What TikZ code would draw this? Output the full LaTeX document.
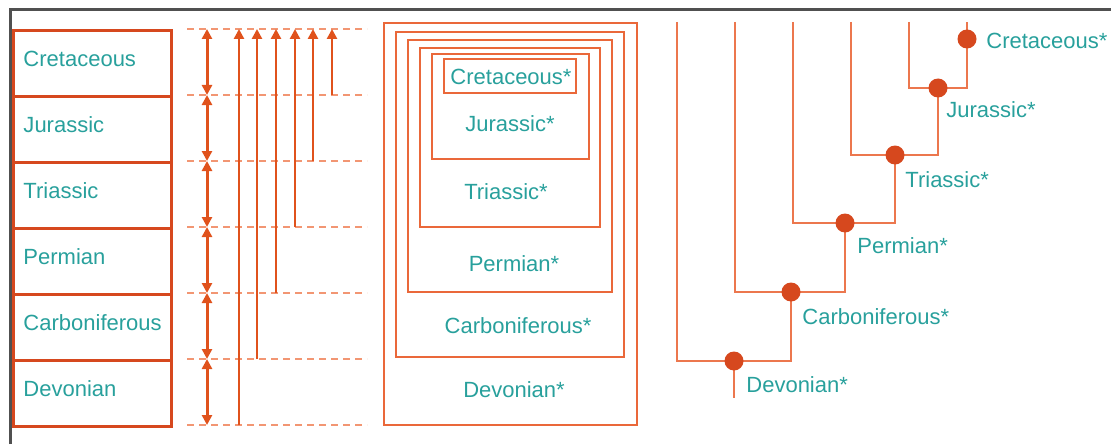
\documentclass[tikz,border=0pt]{standalone}
\usepackage{fontspec}
\setmainfont{Liberation Sans}
\usepackage{xcolor}
\definecolor{epochred}{RGB}{214, 72, 30}
\definecolor{epocharrow}{RGB}{224, 82, 28}
\definecolor{epochorange}{RGB}{234, 104, 58}
\definecolor{epochdash}{RGB}{242, 150, 115}
\definecolor{epochteal}{RGB}{40, 160, 156}
\definecolor{framegray}{RGB}{80, 80, 80}
\usetikzlibrary{arrows.meta}

\begin{document}
\begin{tikzpicture}[
  x=0.5pt, y=-0.5pt,
  period/.style={draw=epochred, line width=1.5pt, minimum height=33pt, text width=69pt, text depth=4.7pt, inner xsep=5pt, inner ysep=0pt, align=left, font=\fontsize{11}{13}\selectfont, text=epochteal, anchor=north west},
  guide/.style={draw=epochdash, line width=0.8pt, dash pattern=on 3.5pt off 2.5pt},
  span/.style={draw=epocharrow, line width=1.5pt, {Triangle[length=5pt, width=5pt]}-{Triangle[length=5pt, width=5pt]}},
  reach/.style={draw=epocharrow, line width=1.4pt, -{Triangle[length=5pt, width=5pt]}},
  nest/.style={draw=epochorange, line width=1.1pt},
  tag/.style={font=\fontsize{11}{13}\selectfont, text=epochteal, inner sep=0pt},
  branch/.style={draw=epochorange!90!white, line width=1.2pt},
  fossil/.style={circle, fill=epochred, inner sep=0pt, minimum size=9.5pt}
]
  \useasboundingbox (0,0) rectangle (1111,444);

  % Frame
  \draw[framegray, line width=1.5pt] (10,444) -- (10,10) -- (1111,10);

  % Periods
  \node[period] (cret) at (12,29)  {Cretaceous};
  \node[period] (jur)  at (12,95)  {Jurassic};
  \node[period] (tri)  at (12,161) {Triassic};
  \node[period] (perm) at (12,227) {Permian};
  \node[period] (carb) at (12,293) {Carboniferous};
  \node[period] (dev)  at (12,359) {Devonian};

  % Time levels
  \foreach \y in {29,95,...,425} {
    \draw[guide] (187,\y) -- (367,\y);
  }
  \foreach \y in {29,95,...,359} {
    \draw[span] (207,\y) -- (207,\y+66);
  }
  \foreach \x/\y in {239/425, 257/359, 276/293, 295/227, 313/161, 332/95} {
    \draw[reach] (\x,\y) -- (\x,29);
  }

  % Nested groups
  \draw[nest] (384,23) rectangle (637,425);
  \draw[nest] (396,32) rectangle (624,357);
  \draw[nest] (408,40) rectangle (612,292);
  \draw[nest] (420,48) rectangle (600,227);
  \draw[nest] (432,54) rectangle (589,159);
  \draw[nest] (444,59) rectangle (576,93);
  \node[tag] (ncret) at (511,77)  {Cretaceous*};
  \node[tag] (njur)  at (510,124) {Jurassic*};
  \node[tag] (ntri)  at (506,192) {Triassic*};
  \node[tag] (nperm) at (514,264) {Permian*};
  \node[tag] (ncarb) at (518,326) {Carboniferous*};
  \node[tag] (ndev)  at (514,390) {Devonian*};

  % Tree
  \coordinate (l1) at (677,22);
  \coordinate (l2) at (735,22);
  \coordinate (l3) at (793,22);
  \coordinate (l4) at (851,22);
  \coordinate (l5) at (909,22);
  \coordinate (l6) at (967,22);
  \coordinate (jdev)  at (734,361);
  \coordinate (jcarb) at (791,292);
  \coordinate (jperm) at (845,223);
  \coordinate (jtri)  at (895,155);
  \coordinate (jjur)  at (938,88);
  \coordinate (jcret) at (967,39);
  \coordinate (root)  at (734,398);

  \draw[branch] (l1) |- (jcarb |- jdev) -- (jcarb);
  \draw[branch] (l2) |- (jperm |- jcarb) -- (jperm);
  \draw[branch] (l3) |- (jtri |- jperm) -- (jtri);
  \draw[branch] (l4) |- (jjur |- jtri) -- (jjur);
  \draw[branch] (l5) |- (l6 |- jjur) -- (l6);
  \draw[branch] (jdev) -- (root);

  \foreach \n in {jdev,jcarb,jperm,jtri,jjur,jcret} {
    \node[fossil] at (\n) {};
  }
  \node[tag, anchor=west] (tcret) at (986,41)  {Cretaceous*};
  \node[tag, anchor=west] (tjur)  at (946,110) {Jurassic*};
  \node[tag, anchor=west] (ttri)  at (905,180) {Triassic*};
  \node[tag, anchor=west] (tperm) at (857,246) {Permian*};
  \node[tag, anchor=west] (tcarb) at (802,317) {Carboniferous*};
  \node[tag, anchor=west] (tdev)  at (746,385) {Devonian*};
\end{tikzpicture}
\end{document}
